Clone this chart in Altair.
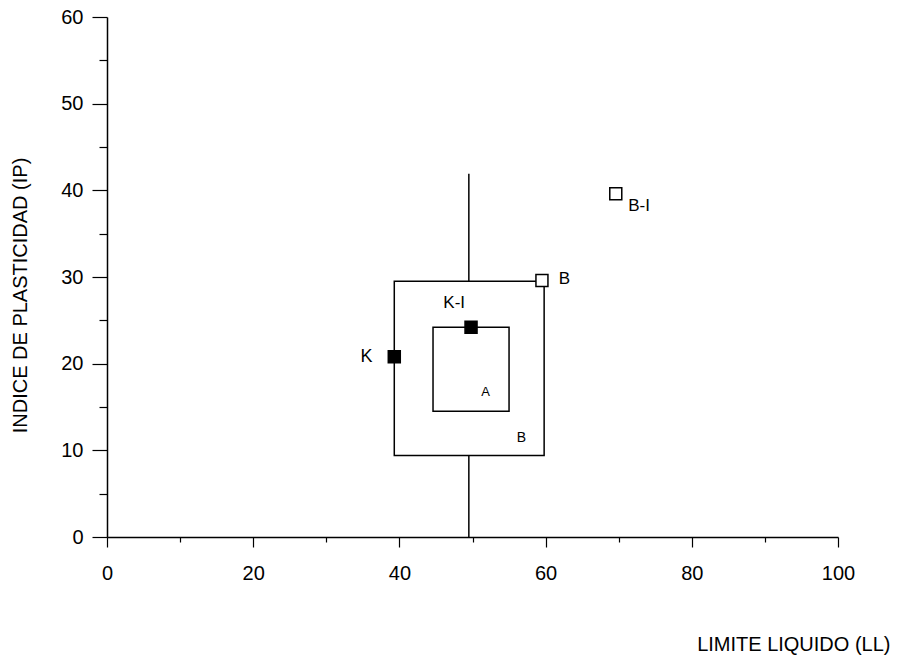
import altair as alt
import pandas as pd

# Points
pt_names = ["K", "K-I", "B", "B-I"]
pt_ll = [39.3, 49.8, 59.5, 69.6]
pt_ip = [20.8, 24.2, 29.6, 39.6]
pt_filled = [True, True, False, False]

# Boxes (zones)
box_names = ["A", "B"]
box_x1 = [44.6, 39.3]
box_x2 = [55.0, 59.8]
box_y1 = [14.5, 9.4]
box_y2 = [24.2, 29.5]

# Vertical reference line segments (LL = 49.5)
seg_x = [49.5, 49.5]
seg_y1 = [29.5, 0]
seg_y2 = [41.9, 9.4]

# Text labels
lab_text = ["K", "K-I", "B", "B-I", "A", "B"]
lab_x = [35.5, 47.5, 61.8, 71.3, 51.8, 56.7]
lab_y = [20.8, 27.0, 29.8, 38.2, 16.7, 11.4]
lab_size = [18, 17, 17, 17, 13, 14]
lab_align = ["center", "center", "left", "left", "center", "center"]

FONT = "Liberation Sans"

pts = pd.DataFrame({"name": pt_names, "ll": pt_ll, "ip": pt_ip, "filled": pt_filled})
boxes = pd.DataFrame({"name": box_names, "x1": box_x1, "x2": box_x2, "y1": box_y1, "y2": box_y2})
segs = pd.DataFrame({"x": seg_x, "y1": seg_y1, "y2": seg_y2})
labs = pd.DataFrame({"t": lab_text, "x": lab_x, "y": lab_y, "s": lab_size, "a": lab_align})

xscale = alt.Scale(domain=[0, 100], nice=False, zero=False)
yscale = alt.Scale(domain=[0, 60], nice=False, zero=False)

xaxis = alt.Axis(
    values=list(range(0, 101, 5)),
    labelExpr="datum.value % 20 === 0 ? datum.label : ''",
    tickSize={"expr": "datum.value % 20 === 0 ? 10 : 5"},
    labelPadding=16, labelFlush=False, labelOverlap=False,
    labelFontSize=20, labelFont=FONT, labelColor="black",
    domainColor="black", tickColor="black", domainWidth=1.5, tickWidth=1.2,
    grid=False,
    title="LIMITE LIQUIDO (LL)", titleFont=FONT, titleFontSize=20,
    titleFontWeight="normal", titleColor="black",
    titleAlign="right", titleBaseline="alphabetic",
    titleX=783, titleY=113,
)
yaxis = alt.Axis(
    values=list(range(0, 61, 5)),
    labelExpr="datum.value % 10 === 0 ? datum.label : ''",
    tickSize={"expr": "datum.value % 10 === 0 ? 15 : 8"},
    labelPadding=9, labelFlush=False, labelOverlap=False,
    labelFontSize=20, labelFont=FONT, labelColor="black",
    domainColor="black", tickColor="black", domainWidth=1.5, tickWidth=1.2,
    grid=False,
    title="INDICE DE PLASTICIDAD (IP)", titleFont=FONT, titleFontSize=20,
    titleFontWeight="normal", titleColor="black",
    titleAlign="center", titleBaseline="middle", titleAngle=-90,
    titleX=-87, titleY=278,
)

box_layer = alt.Chart(boxes).mark_rect(fill=None, stroke="black", strokeWidth=1.5, filled=False).encode(
    x=alt.X("x1:Q", scale=xscale, axis=xaxis),
    x2="x2:Q",
    y=alt.Y("y1:Q", scale=yscale, axis=yaxis),
    y2="y2:Q",
)
seg_layer = alt.Chart(segs).mark_rule(color="black", strokeWidth=1.5).encode(
    x=alt.X("x:Q", scale=xscale),
    y=alt.Y("y1:Q", scale=yscale),
    y2="y2:Q",
)
pt_layer = alt.Chart(pts).mark_square(size=144, stroke="black", strokeWidth=1.5, opacity=1).encode(
    x=alt.X("ll:Q", scale=xscale),
    y=alt.Y("ip:Q", scale=yscale),
    fill=alt.Fill("filled:N", scale=alt.Scale(domain=[True, False], range=["black", "white"]), legend=None),
)

def text_layer(align):
    return alt.Chart(labs).transform_filter(
        alt.datum.a == align
    ).mark_text(font=FONT, color="black", baseline="middle", align=align).encode(
        x=alt.X("x:Q", scale=xscale),
        y=alt.Y("y:Q", scale=yscale),
        text="t:N",
        size=alt.Size("s:Q", scale=None, legend=None),
    )

chart = alt.layer(box_layer, seg_layer, pt_layer, text_layer("center"), text_layer("left")).properties(
    width=731, height=520,
    autosize=alt.AutoSizeParams(type="none"),
    padding={"left": 107, "top": 17, "right": 69, "bottom": 120},
    background="white",
).configure_view(stroke=None)

chart.save("out.html", embed_options={"renderer": "svg", "actions": False})
